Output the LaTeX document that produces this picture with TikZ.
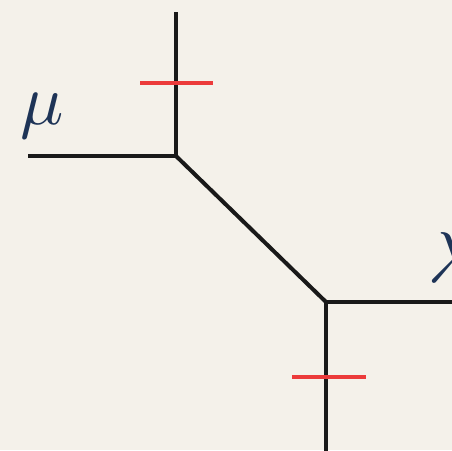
\documentclass[tikz,border=0pt]{standalone}
\usepackage{graphicx}
\definecolor{bg}{HTML}{F4F1EA}
\definecolor{ink}{HTML}{1E3457}
\definecolor{tick}{HTML}{EC3B3B}
\begin{document}
\begin{tikzpicture}[x=0.75pt,y=-0.75pt,
  edge/.style={line width=3pt,black!90},
  redtick/.style={line width=3pt,tick},
  lbl/.style={text=ink,inner sep=0pt}]
\fill[bg] (0,0) rectangle (452,450);
\useasboundingbox (0,0) rectangle (452,450);
\coordinate (A) at (176,156);
\coordinate (B) at (326,302);
\coordinate (T) at (176,12);
\coordinate (L) at (28,156);
\coordinate (R) at (460,302);
\coordinate (D) at (326,452);
\coordinate (t1a) at (140,83);
\coordinate (t1b) at (213,83);
\coordinate (t2a) at (292,377);
\coordinate (t2b) at (366,377);
\draw[edge] (L) -- (A);
\draw[edge] (T) -- (A);
\draw[edge] (A) -- (B);
\draw[edge] (B) -- (R);
\draw[edge] (B) -- (D);
\draw[redtick] (t1a) -- (t1b);
\draw[redtick] (t2a) -- (t2b);
\node[lbl,anchor=base west] (mu) at (20,124) {\scalebox{5.4}{$\mu$}};
\node[lbl,anchor=base west] (la) at (428,282) {\scalebox{5.4}{$\lambda$}};
\end{tikzpicture}
\end{document}
